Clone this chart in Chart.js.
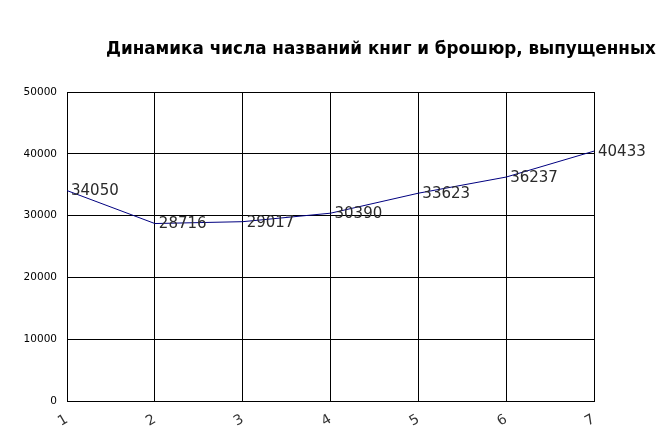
<!DOCTYPE html>
<html><head><meta charset="utf-8">
<script src="https://cdn.jsdelivr.net/npm/chart.js@4/dist/chart.umd.min.js"></script>
<style>html,body{margin:0;padding:0;background:#fff}#wrap{width:656px;height:442px}</style>
</head><body><div id="wrap"><canvas id="c" width="656" height="442"></canvas></div>
<script>
const titleText = "Динамика числа названий книг и брошюр, выпущенных";
const categories = ["1","2","3","4","5","6","7"];
const values = [34050, 28716, 29017, 30390, 33623, 36237, 40433];
const yTicks = [0, 10000, 20000, 30000, 40000, 50000];

const titlePlugin = {
  id: 'leftTitle',
  afterDraw(chart) {
    const ctx = chart.ctx;
    ctx.save();
    ctx.font = 'bold 16.8px "DejaVu Sans"';
    ctx.fillStyle = '#000';
    ctx.textBaseline = 'middle';
    ctx.textAlign = 'left';
    ctx.fillText(titleText, 106, 50);
    ctx.restore();
  }
};
const labelPlugin = {
  id: 'pointLabels',
  afterDatasetsDraw(chart) {
    const ctx = chart.ctx;
    const meta = chart.getDatasetMeta(0);
    ctx.save();
    ctx.font = '15px "DejaVu Sans"';
    ctx.fillStyle = '#2a2a2a';
    ctx.textBaseline = 'middle';
    ctx.textAlign = 'left';
    meta.data.forEach((pt, i) => {
      ctx.fillText(String(values[i]), pt.x + 4, pt.y + 1);
    });
    ctx.restore();
  }
};

new Chart(document.getElementById('c'), {
  type: 'line',
  data: {
    labels: categories,
    datasets: [{
      data: values,
      borderColor: '#000080',
      borderWidth: 1,
      pointRadius: 0,
      tension: 0,
      fill: false
    }]
  },
  options: {
    responsive: false,
    animation: false,
    devicePixelRatio: 1,
    layout: { padding: { left: 0, right: 62, top: 92, bottom: 0 } },
    plugins: { legend: { display: false }, title: { display: false }, tooltip: { enabled: false } },
    scales: {
      x: {
        offset: false,
        grid: { color: '#000', lineWidth: 1, drawTicks: false },
        border: { color: '#000', width: 1 },
        ticks: { color: '#333', font: { family: 'DejaVu Sans', size: 14 }, padding: 10, minRotation: 30, maxRotation: 30 },
        afterFit(s) { s.height = 41; }
      },
      y: {
        min: 0, max: 50000,
        afterBuildTicks(s) { s.ticks = yTicks.map(v => ({ value: v })); },
        grid: { color: '#000', lineWidth: 1, drawTicks: false },
        border: { color: '#000', width: 1 },
        ticks: { color: '#000', font: { family: 'DejaVu Sans', size: 10.5 }, padding: 10, callback: v => String(v) },
        afterFit(s) { s.width = 67; }
      }
    }
  },
  plugins: [titlePlugin, labelPlugin]
});
</script></body></html>
